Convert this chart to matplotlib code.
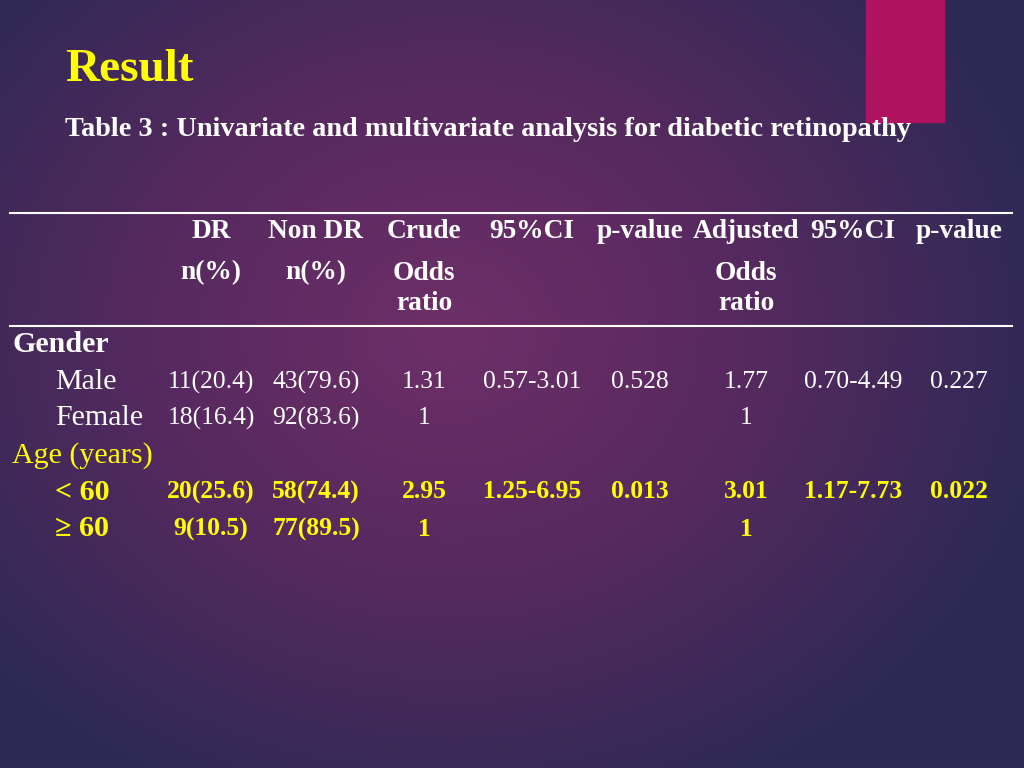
import numpy as np
import matplotlib
matplotlib.use("Agg")
import matplotlib.pyplot as plt
from matplotlib import font_manager as fm
from matplotlib.colors import LinearSegmentedColormap

title = "Result"
subtitle = "Table 3 : Univariate and multivariate analysis for diabetic retinopathy"
headers1 = ["DR", "Non DR", "Crude", "95%CI", "p-value", "Adjusted", "95%CI", "p-value"]
headers2 = ["n(%)", "n(%)", "Odds", "", "", "Odds", "", ""]
headers3 = ["", "", "ratio", "", "", "ratio", "", ""]
groups = ["Gender", "Age (years)"]
row_labels = [["Male", "Female"], ["< 60", "≥ 60"]]
rows = [
    [["11(20.4)", "43(79.6)", "1.31", "0.57-3.01", "0.528", "1.77", "0.70-4.49", "0.227"],
     ["18(16.4)", "92(83.6)", "1", "", "", "1", "", ""]],
    [["20(25.6)", "58(74.4)", "2.95", "1.25-6.95", "0.013", "3.01", "1.17-7.73", "0.022"],
     ["9(10.5)", "77(89.5)", "1", "", "", "1", "", ""]],
]

names = {f.name for f in fm.fontManager.ttflist}
ff = "Liberation Serif" if "Liberation Serif" in names else "DejaVu Serif"
S = 1.16 if ff == "DejaVu Serif" else 1.0

W, H = 1024, 768
fig = plt.figure(figsize=(W/100, H/100), dpi=100)
ax = fig.add_axes([0, 0, 1, 1])
ax.set_xlim(0, W); ax.set_ylim(H, 0); ax.axis("off")

yy, xx = np.mgrid[0:H, 0:W]
r = np.sqrt(((xx-450)/620)**2 + ((yy-330)/520)**2)
r = np.clip(r, 0, 1)
cmap = LinearSegmentedColormap.from_list("bg", ["#6e2f68", "#55295f", "#2c2a55"])
ax.imshow(r, cmap=cmap, extent=(0, W, H, 0), aspect="auto", zorder=0)
ax.add_patch(plt.Rectangle((866, 0), 78, 122, color="#b0135f", zorder=1))

def T(x, y, s, size, **kw):
    t = ax.text(x, y, s, fontsize=size, family=[ff, "DejaVu Serif"], va="center", **kw)
    return t

T(65, 70, title, 34, color="#ffff00", fontweight="bold")
sub = T(65, 129, subtitle, 16, color="white", fontweight="bold")
fig.canvas.draw()
bb = sub.get_window_extent()
k = 847.0 / bb.width
sub.set_fontsize(16 * k)
S = k

cols = [211, 316, 424, 532, 640, 746, 853, 959]
for hdr, y in [(headers1, 232), (headers2, 273), (headers3, 304)]:
    for x, t in zip(cols, hdr):
        T(x, y, t, 15.5*S, color="white", fontweight="bold", ha="center")
for y in (213, 326):
    ax.plot([10, 1012], [y, y], color="white", lw=1.5)

ys = [[382, 418], [492, 529]]
gy = [345, 456]
for g in range(2):
    col = "white" if g == 0 else "#ffff00"
    T(12, gy[g], groups[g], 17*S, color=col, fontweight="bold" if g == 0 else "normal")
    for i in range(2):
        T(55, ys[g][i], row_labels[g][i], 17*S, color=col,
          fontweight="bold" if g == 1 else "normal")
        for x, t in zip(cols, rows[g][i]):
            T(x, ys[g][i], t, 14.5*S, color=col, ha="center",
              fontweight="bold" if g == 1 else "normal")

fig.savefig("out.png", dpi=100)
